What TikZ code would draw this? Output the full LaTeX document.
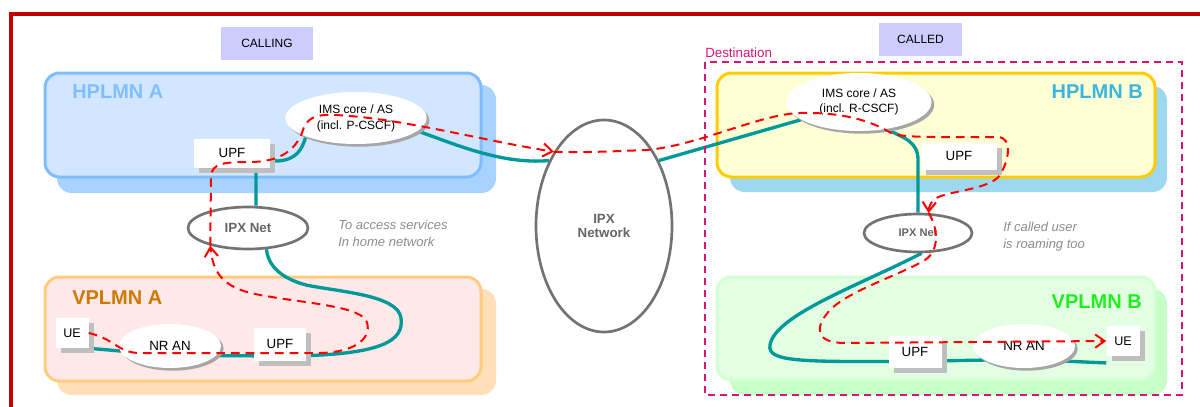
\documentclass[tikz,border=0pt]{standalone}
\usepackage{fontspec}
\setmainfont{Liberation Sans}
\usetikzlibrary{shapes.geometric,shadows,arrows.meta}

\definecolor{framered}{RGB}{192,0,0}
\definecolor{callfill}{RGB}{204,204,255}
\definecolor{destc}{RGB}{214,20,122}
\definecolor{tealc}{RGB}{0,153,153}
\definecolor{hAfill}{RGB}{210,230,255}
\definecolor{hAline}{RGB}{126,190,255}
\definecolor{hAshadow}{RGB}{168,211,255}
\definecolor{hAtext}{RGB}{128,191,255}
\definecolor{hBfill}{RGB}{255,255,213}
\definecolor{hBline}{RGB}{255,204,0}
\definecolor{hBshadow}{RGB}{158,216,238}
\definecolor{hBtext}{RGB}{60,180,224}
\definecolor{vAfill}{RGB}{255,232,232}
\definecolor{vAline}{RGB}{255,204,128}
\definecolor{vAshadow}{RGB}{255,224,184}
\definecolor{vAtext}{RGB}{204,122,0}
\definecolor{vBfill}{RGB}{227,255,227}
\definecolor{vBline}{RGB}{211,255,211}
\definecolor{vBshadow}{RGB}{200,255,200}
\definecolor{vBtext}{RGB}{34,238,34}

\pgfdeclarelayer{bg}
\pgfdeclarelayer{mid}
\pgfsetlayers{bg,mid,main}

\tikzset{every picture/.style={line width=0.75pt}}
\tikzset{
  rolebox/.style={rectangle, fill=callfill, inner sep=0pt, font=\fontsize{9}{11}\selectfont},
  imsnode/.style={ellipse, fill=white, inner sep=0pt, align=center,
    drop shadow={shadow xshift=2pt, shadow yshift=-2pt, fill=black!35, opacity=1}},
  upfbox/.style={rectangle, fill=white, inner sep=0pt,
    drop shadow={shadow xshift=4pt, shadow yshift=-4pt, fill=black!25, opacity=1}},
  ipxnode/.style={ellipse, fill=white, draw=black!55, line width=2pt, inner sep=0pt,
    align=center, text=black!60, font=\bfseries\fontsize{10}{10.5}\selectfont},
  plmnlabel/.style={inner sep=0pt, font=\bfseries\fontsize{15}{15}\selectfont},
  note/.style={inner sep=0pt, align=left, text=black!45, font=\itshape\fontsize{9.75}{12.75}\selectfont},
  tealline/.style={draw=tealc, line width=2.5pt},
  sigpath/.style={draw=red, line width=1.5pt, dash pattern=on 6.5pt off 4.5pt,
    -{Straight Barb[length=7pt,width=10pt]}}
}

\begin{document}
\begin{tikzpicture}[x=0.75pt,y=0.75pt,yscale=-1,xscale=1]
\useasboundingbox (0,0) rectangle (1200,407);
\clip (0,0) rectangle (1200,407);

%PLMN areas
\begin{pgfonlayer}{bg}
\draw [fill=hAshadow, draw=none, rounded corners=11pt] (57,85) rectangle (496,193);
\draw [fill=hAfill, draw=hAline, line width=2.25pt, rounded corners=11pt] (45,73) rectangle (481,177);
\draw [fill=vAshadow, draw=none, rounded corners=11pt] (57,289) rectangle (496,395);
\draw [fill=vAfill, draw=vAline, line width=2.25pt, rounded corners=11pt] (45,277) rectangle (481,381);
\draw [fill=hBshadow, draw=none, rounded corners=11pt] (730,86) rectangle (1167,192);
\draw [fill=hBfill, draw=hBline, line width=2.25pt, rounded corners=11pt] (717,73) rectangle (1155,177);
\draw [fill=vBshadow, draw=none, rounded corners=11pt] (730,289) rectangle (1167,395);
\draw [fill=vBfill, draw=vBline, line width=2.25pt, rounded corners=11pt] (717,277) rectangle (1155,380);
\end{pgfonlayer}

%Outer frame
\draw [framered, line width=2.4pt] (11,430) -- (11,14) -- (1220,14);
%Destination area
\draw [destc, line width=1.4pt, dash pattern=on 5.5pt off 3.5pt] (705,62) rectangle (1182,395);
\node [anchor=base west, inner sep=0pt, text=destc, font=\fontsize{10}{12}\selectfont] (destlabel) at (705,57) {Destination};

% Text Node
\node [rolebox, minimum width=69pt, minimum height=24.75pt] (calling) at (267,43.5) {CALLING};
\node [rolebox, minimum width=62.25pt, minimum height=24.75pt] (called) at (920.5,39.5) {CALLED};

\node [plmnlabel, text=hAtext, anchor=west] (hplmnA) at (72,92) {HPLMN A};
\node [plmnlabel, text=hBtext, anchor=east] (hplmnB) at (1143,92) {HPLMN B};
\node [plmnlabel, text=vAtext, anchor=west] (vplmnA) at (72,298) {VPLMN A};
\node [plmnlabel, text=vBtext, anchor=east] (vplmnB) at (1142,302) {VPLMN B};

\node [note, anchor=west] (noteA) at (338,233) {To access services\\In home network};
\node [note, anchor=west] (noteB) at (1003,237) {If called user\\is roaming too};

%Network nodes
\node [imsnode, minimum width=106pt, minimum height=39pt, font=\fontsize{9}{12}\selectfont] (imsA) at (356,118) {IMS core / AS\\(incl. P-CSCF)};
\node [imsnode, minimum width=108.75pt, minimum height=43.5pt, font=\fontsize{9}{11}\selectfont] (imsB) at (859,102) {IMS core / AS\\(incl. R-CSCF)};
\node [upfbox, minimum width=57pt, minimum height=21.75pt, font=\fontsize{10}{12}\selectfont] (upfA1) at (232,153) {UPF};
\node [upfbox, minimum width=39pt, minimum height=24.75pt, font=\fontsize{10}{12}\selectfont] (upfA2) at (280,344) {UPF};
\node [upfbox, minimum width=24.75pt, minimum height=22.5pt, font=\fontsize{9.4}{11}\selectfont] (ueA) at (72,333) {UE};
\node [imsnode, minimum width=76.5pt, minimum height=33pt, font=\fontsize{10}{12}\selectfont] (nranA) at (170,346) {NR AN};
\node [ipxnode, minimum width=90pt, minimum height=31.5pt] (ipxA) at (248,228) {IPX Net};
\node [ipxnode, minimum width=102pt, minimum height=159pt] (ipxNet) at (604,226) {IPX\\Network};
\node [upfbox, minimum width=57pt, minimum height=20.25pt, font=\fontsize{10}{12}\selectfont] (upfB1) at (959,156) {UPF};
\node [ipxnode, minimum width=81pt, minimum height=28.5pt, font=\bfseries\fontsize{8.3}{10}\selectfont] (ipxB) at (918,233) {IPX Net};
\node [upfbox, minimum width=39.75pt, minimum height=24pt, font=\fontsize{10}{12}\selectfont] (upfB2) at (915,352) {UPF};
\node [imsnode, minimum width=76.5pt, minimum height=33pt, font=\fontsize{10}{12}\selectfont] (nranB) at (1024,346) {NR AN};
\node [upfbox, minimum width=24.75pt, minimum height=22.5pt, font=\fontsize{9.4}{11}\selectfont] (ueB) at (1123,341) {UE};

%User plane links
\begin{pgfonlayer}{mid}
\draw [tealline] (ueA.south east) -- ([yshift=7]nranA.center) -- ([yshift=9]upfA2.center) .. controls (385,356) and (404,340) .. (401,318) .. controls (398,295) and (340,292) .. (306,285) .. controls (280,278) and (268,265) .. (ipxA.-49);
\draw [tealline] ([xshift=6]ipxA.north) -- ([xshift=18,yshift=4]upfA1.center) -- ([xshift=34,yshift=6]upfA1.center) .. controls (296,160) and (302,150) .. (imsA.south west);
\draw [tealline] (imsA.-12) .. controls (450,142) and (500,165) .. (ipxNet.130);
\draw [tealline] (ipxNet.50) -- (imsB.197);
\draw [tealline] (imsB.-45) .. controls (905,138) and (918,142) .. (918,160) -- (ipxB.north);
\draw [tealline] (ipxB.-80) .. controls (860,285) and (775,315) .. (770,345) .. controls (767,362) and (800,362) .. ([yshift=7]upfB2.center) -- ([yshift=10]nranB.center) -- ([yshift=5]ueB.south west);
\end{pgfonlayer}

%Signalling paths
\draw [sigpath] (ueA.east) .. controls (115,339) and (118,353) .. (140,353) -- (320,353) .. controls (360,352) and (373,335) .. (366,320) .. controls (355,305) and (300,303) .. (255,294) .. controls (222,287) and (213,272) .. (ipxA.205);
\draw [sigpath] (ipxA.205) -- (211,176) .. controls (212,163) and (225,162) .. (250,162) .. controls (280,162) and (295,150) .. (302,133) .. controls (306,118) and (315,114) .. (335,115) .. controls (400,118) and (480,140) .. (ipxNet.124);
\draw [sigpath] (ipxNet.124) .. controls (580,153) and (620,151) .. (647,150) .. controls (700,145) and (760,114) .. (800,113) .. controls (840,112) and (870,120) .. (891,133) .. controls (900,138) and (940,137) .. (998,137) .. controls (1013,138) and (1009,160) .. (1000,175) .. controls (990,190) and (945,191) .. (935,199) .. controls (930,203) and (929,207) .. (ipxB.62);
\draw [sigpath] (ipxB.62) .. controls (938,228) and (940,250) .. (925,260) .. controls (900,275) and (850,290) .. (830,310) .. controls (812,330) and (818,343) .. (845,343) -- (ueB.west);

\end{tikzpicture}
\end{document}
